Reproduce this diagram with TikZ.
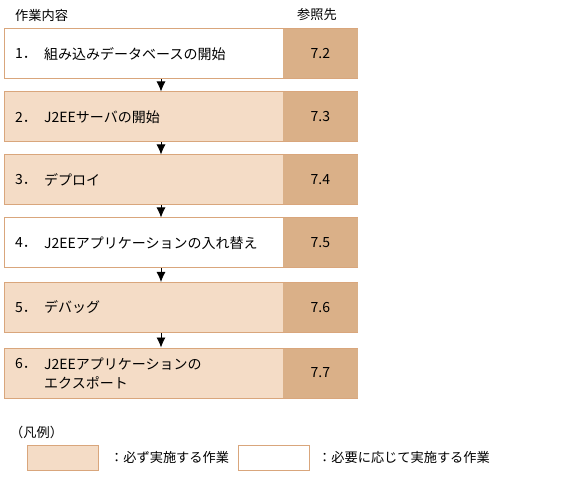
\documentclass[tikz,border=0pt]{standalone}
\usepackage{fontspec}
\setmainfont{Noto Sans CJK JP}
\usetikzlibrary{arrows.meta}
\definecolor{lightbox}{HTML}{F4DCC6}
\definecolor{darkbox}{HTML}{DAB088}
\definecolor{boxline}{HTML}{D9A67C}

\begin{document}
\begin{tikzpicture}[x=1pt,y=-1pt,font=\fontsize{14}{19}\selectfont,
    taskbox/.style={draw=boxline,line width=1pt,minimum width=353pt,minimum height=50pt,inner sep=0pt},
    refbox/.style={fill=darkbox,minimum width=75pt,minimum height=49pt,inner sep=0pt,anchor=east},
    keybox/.style={draw=boxline,line width=1pt,minimum width=71pt,minimum height=25pt,inner sep=0pt},
    txt/.style={anchor=west,inner sep=0pt},
    small/.style={font=\fontsize{13.2}{16}\selectfont}]
    \useasboundingbox (0,0) rectangle (562,478);
      \node[txt,small] (head1) at (15,15) {作業内容};
      \node[txt,small] (head2) at (297,15) {参照先};
    % tasks
      \node[taskbox,fill=white] (b1) at (180.5,54) {};
      \node[taskbox,fill=lightbox] (b2) at (180.5,117) {};
      \node[taskbox,fill=lightbox] (b3) at (180.5,180) {};
      \node[taskbox,fill=white] (b4) at (180.5,243) {};
      \node[taskbox,fill=lightbox] (b5) at (180.5,307.5) {};
      \node[taskbox,fill=lightbox] (b6) at (180.5,373) {};
      \node[refbox] (r1) at ([xshift=0.5pt]b1.east) {7.2};
      \node[refbox] (r2) at ([xshift=0.5pt]b2.east) {7.3};
      \node[refbox] (r3) at ([xshift=0.5pt]b3.east) {7.4};
      \node[refbox] (r4) at ([xshift=0.5pt]b4.east) {7.5};
      \node[refbox] (r5) at ([xshift=0.5pt]b5.east) {7.6};
      \node[refbox] (r6) at ([xshift=0.5pt]b6.east) {7.7};
      \node[txt] (n1) at (15,54) {1．};
      \node[txt] (l1) at (44,54) {組み込みデータベースの開始};
      \node[txt] (n2) at (15,117) {2．};
      \node[txt] (l2) at (44,117) {J2EEサーバの開始};
      \node[txt] (n3) at (15,180) {3．};
      \node[txt] (l3) at (44,180) {デプロイ};
      \node[txt] (n4) at (15,243) {4．};
      \node[txt] (l4) at (44,243) {J2EEアプリケーションの入れ替え};
      \node[txt] (n5) at (15,307.5) {5．};
      \node[txt] (l5) at (44,307.5) {デバッグ};
      \node[txt] (n6) at (15,364) {6．};
      \node[txt,align=left] (l6) at (44,373.5) {J2EEアプリケーションの\\エクスポート};
    % arrows
      \coordinate (ax) at (161,0);
      \foreach \a/\b in {b1/b2,b2/b3,b3/b4,b4/b5,b5/b6}
        \draw[-{Latex[length=10pt,width=9pt]},line width=0.8pt] (\a.south -| ax) -- (\b.north -| ax);
    % legend
      \node[txt,small] (key) at (10,432) {（凡例）};
      \node[keybox,fill=lightbox] (k1) at (62.5,457.5) {};
      \node[txt,small] (k1t) at (110,457.5) {：必ず実施する作業};
      \node[keybox,fill=white] (k2) at (273.5,457.5) {};
      \node[txt,small] (k2t) at (318,457.5) {：必要に応じて実施する作業};
\end{tikzpicture}
\end{document}
